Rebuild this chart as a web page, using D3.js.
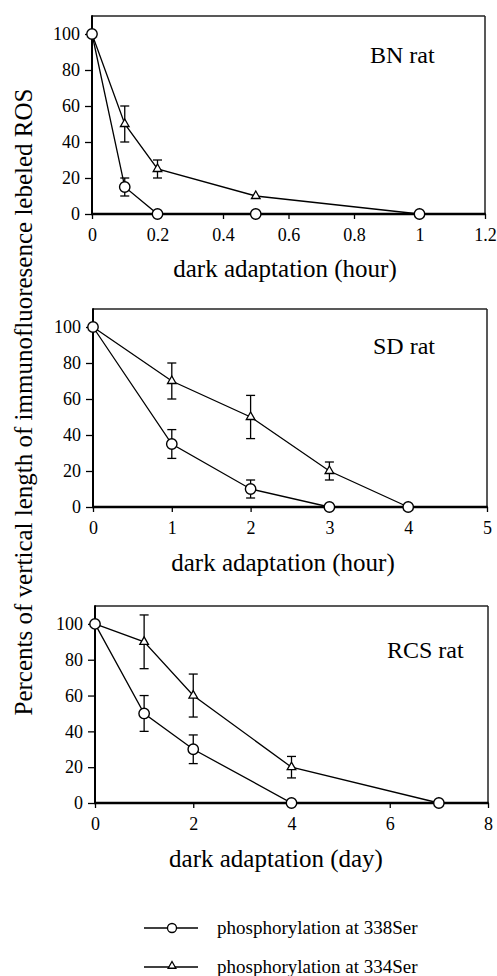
<!DOCTYPE html>
<html><head><meta charset="utf-8">
<script src="https://cdn.jsdelivr.net/npm/d3@7"></script>
<style>
html,body{margin:0;padding:0;background:#fff;}
svg{display:block;font-family:"Liberation Serif","Times New Roman",serif;}
</style></head>
<body><svg id="c" width="497" height="976"></svg>
<script>
// ---- data ----
const yTicks = [0, 20, 40, 60, 80, 100];

const bnHours = [0, 0.1, 0.2, 0.5, 1];
const bnSer338 = [100, 15, 0, 0, 0];
const bnSer338Err = [0, 5, 0, 0, 0];
const bnSer334 = [100, 50, 25, 10, 0];
const bnSer334Err = [0, 10, 5, 0, 0];
const bnXTicks = [0, 0.2, 0.4, 0.6, 0.8, 1, 1.2];

const sdHours = [0, 1, 2, 3, 4];
const sdSer338 = [100, 35, 10, 0, 0];
const sdSer338Err = [0, 8, 5, 0, 0];
const sdSer334 = [100, 70, 50, 20, 0];
const sdSer334Err = [0, 10, 12, 5, 0];
const sdXTicks = [0, 1, 2, 3, 4, 5];

const rcsDays = [0, 1, 2, 4, 7];
const rcsSer338 = [100, 50, 30, 0, 0];
const rcsSer338Err = [0, 10, 8, 0, 0];
const rcsSer334 = [100, 90, 60, 20, 0];
const rcsSer334Err = [0, 15, 12, 6, 0];
const rcsXTicks = [0, 2, 4, 6, 8];

const yTitle = "Percents of vertical length of immunofluoresence lebeled ROS";
const legendLabels = ["phosphorylation at 338Ser", "phosphorylation at 334Ser"];

// ---- layout ----
const panels = [
  {name: "BN rat", x: bnHours, s338: bnSer338, e338: bnSer338Err, s334: bnSer334, e334: bnSer334Err,
   ticks: bnXTicks, xTitle: "dark adaptation (hour)",
   L: 92, R: 485, T: 16, B: 214, tx: 370, ty: 63, titleX: 285, titleY: 277},
  {name: "SD rat", x: sdHours, s338: sdSer338, e338: sdSer338Err, s334: sdSer334, e334: sdSer334Err,
   ticks: sdXTicks, xTitle: "dark adaptation (hour)",
   L: 93, R: 487, T: 309, B: 507, tx: 373, ty: 354, titleX: 283, titleY: 571},
  {name: "RCS rat", x: rcsDays, s338: rcsSer338, e338: rcsSer338Err, s334: rcsSer334, e334: rcsSer334Err,
   ticks: rcsXTicks, xTitle: "dark adaptation (day)",
   L: 95, R: 488, T: 606, B: 803, tx: 387, ty: 658, titleX: 276, titleY: 867}
];

const svg = d3.select("#c");
const triangle = d3.symbol().type(d3.symbolTriangle).size(32);
const triangleSmall = d3.symbol().type(d3.symbolTriangle).size(26);

panels.forEach(p => {
  const x = d3.scaleLinear().domain([0, p.ticks[p.ticks.length - 1]]).range([p.L, p.R]);
  const y = d3.scaleLinear().domain([0, 110]).range([p.B, p.T]);
  const g = svg.append("g");

  // axes
  const ax = d3.axisBottom(x).tickValues(p.ticks).tickSize(5).tickPadding(9.5).tickFormat(d => String(d));
  const gx = g.append("g").attr("transform", `translate(0,${p.B})`).call(ax);
  const ay = d3.axisLeft(y).tickValues(yTicks).tickSize(7).tickPadding(5).tickFormat(d => String(d));
  const gy = g.append("g").attr("transform", `translate(${p.L},0)`).call(ay);
  [gx, gy].forEach(a => {
    a.select(".domain").remove();
    a.selectAll(".tick line").attr("stroke", "#000").attr("stroke-width", 1.3);
    a.selectAll(".tick text").attr("font-size", 18).attr("fill", "#000")
      .attr("font-family", '"Liberation Serif",serif');
  });
  gx.selectAll(".tick text").attr("dy", "0.71em");

  // frame
  g.append("line").attr("x1", p.L).attr("x2", p.R).attr("y1", p.T).attr("y2", p.T)
    .attr("stroke", "#222").attr("stroke-width", 1.5);
  g.append("line").attr("x1", p.R).attr("x2", p.R).attr("y1", p.T).attr("y2", p.B)
    .attr("stroke", "#222").attr("stroke-width", 1.5);
  g.append("line").attr("x1", p.L).attr("x2", p.L).attr("y1", p.T - 0.75).attr("y2", p.B)
    .attr("stroke", "#000").attr("stroke-width", 2);
  g.append("line").attr("x1", p.L - 1).attr("x2", p.R + 0.75).attr("y1", p.B).attr("y2", p.B)
    .attr("stroke", "#000").attr("stroke-width", 2.6);

  // series
  const line = d3.line().x(d => x(d.x)).y(d => y(d.v));
  const mk = (vals, errs) => p.x.map((xx, i) => ({x: xx, v: vals[i], e: errs[i]}));
  const d338 = mk(p.s338, p.e338), d334 = mk(p.s334, p.e334);

  [d334, d338].forEach(d => {
    g.append("path").datum(d).attr("d", line).attr("fill", "none")
      .attr("stroke", "#000").attr("stroke-width", 1.3);
  });
  // error bars
  [d334, d338].forEach(d => {
    d.filter(o => o.e > 0).forEach(o => {
      const cx = x(o.x), y1 = y(o.v + o.e), y2 = y(o.v - o.e);
      g.append("line").attr("x1", cx).attr("x2", cx).attr("y1", y1).attr("y2", y2)
        .attr("stroke", "#000").attr("stroke-width", 1.3);
      [y1, y2].forEach(yy => g.append("line").attr("x1", cx - 4.5).attr("x2", cx + 4.5)
        .attr("y1", yy).attr("y2", yy).attr("stroke", "#000").attr("stroke-width", 1.3));
    });
  });
  // markers
  g.selectAll(null).data(d334).join("path")
    .attr("d", triangle).attr("transform", d => `translate(${x(d.x)},${y(d.v)})`)
    .attr("fill", "#fff").attr("stroke", "#000").attr("stroke-width", 1.3);
  g.selectAll(null).data(d338).join("circle")
    .attr("cx", d => x(d.x)).attr("cy", d => y(d.v)).attr("r", 5.2)
    .attr("fill", "#fff").attr("stroke", "#000").attr("stroke-width", 1.4);

  // labels
  g.append("text").attr("x", p.tx).attr("y", p.ty).attr("font-size", 24).text(p.name);
  g.append("text").attr("x", p.titleX).attr("y", p.titleY).attr("text-anchor", "middle")
    .attr("font-size", 25).text(p.xTitle);
});

// y title
svg.append("text").attr("transform", "translate(32,402) rotate(-90)")
  .attr("text-anchor", "middle").attr("font-size", 25).text(yTitle);

// legend
const legendY = [928, 967];
legendLabels.forEach((lab, i) => {
  const g = svg.append("g");
  g.append("line").attr("x1", 144).attr("x2", 198).attr("y1", legendY[i]).attr("y2", legendY[i])
    .attr("stroke", "#000").attr("stroke-width", 1.3);
  if (i === 0) {
    g.append("circle").attr("cx", 172).attr("cy", legendY[i]).attr("r", 4.5)
      .attr("fill", "#fff").attr("stroke", "#000").attr("stroke-width", 1.3);
  } else {
    g.append("path").attr("d", triangleSmall).attr("transform", `translate(172,${legendY[i] - 1})`)
      .attr("fill", "#fff").attr("stroke", "#000").attr("stroke-width", 1.3);
  }
  g.append("text").attr("x", 217).attr("y", legendY[i] + 6).attr("font-size", 19).text(lab);
});
</script></body></html>
